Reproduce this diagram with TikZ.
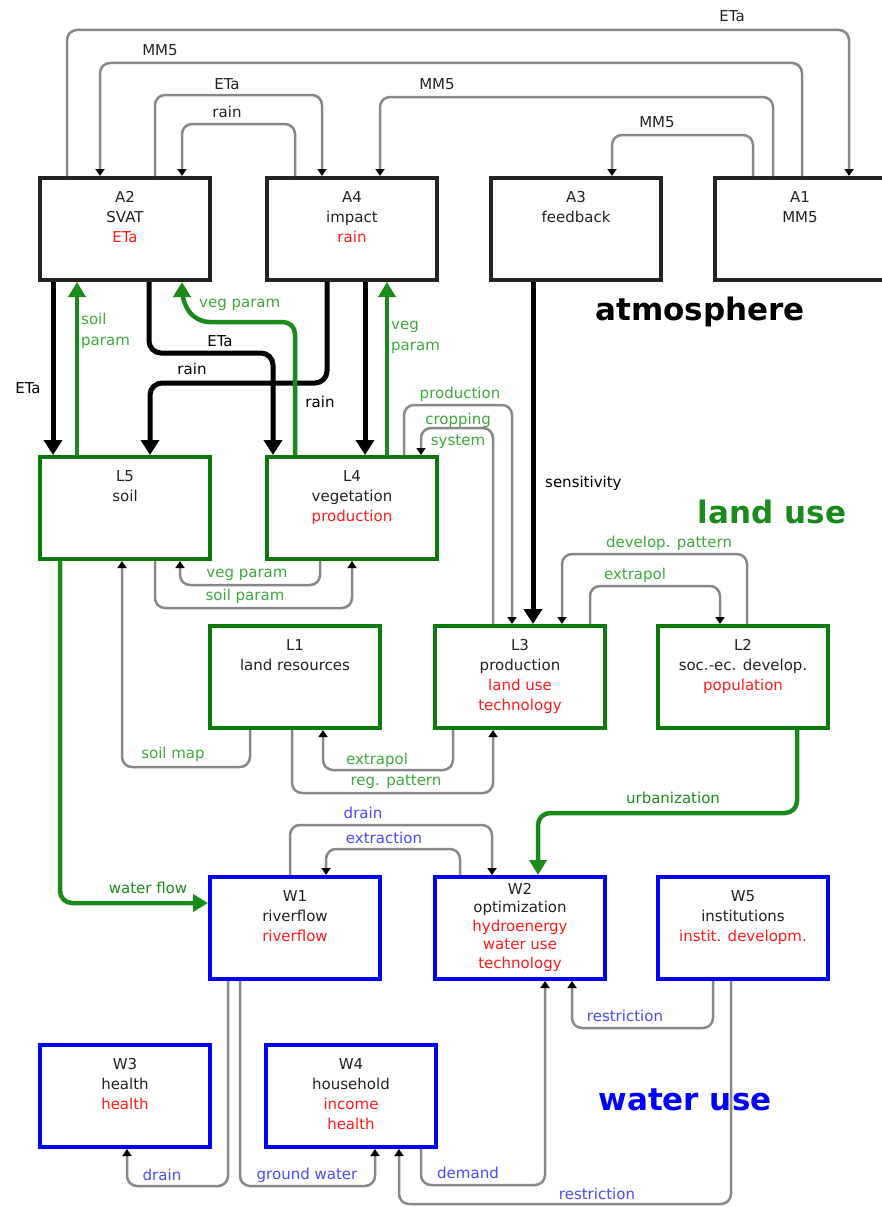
\documentclass[tikz,border=0pt]{standalone}
\usepackage{fontspec}
\setmainfont{DejaVu Sans}
\usetikzlibrary{arrows.meta}
\definecolor{cgray}{HTML}{888888}
\definecolor{cgreen}{HTML}{1A8A1A}
\definecolor{bgreen}{HTML}{0A7A0A}
\definecolor{lgreen}{HTML}{3DA83D}
\definecolor{cblue}{HTML}{0000FF}
\definecolor{lblue}{HTML}{4848FF}
\definecolor{cred}{HTML}{FF1A1A}
\definecolor{cdark}{HTML}{222222}
\begin{document}
\begin{tikzpicture}[x=1pt,y=-1pt,
 box/.style={draw, line width=4pt, minimum width=170pt, minimum height=102pt, inner sep=0pt},
 atm/.style={box, draw=cdark},
 lnd/.style={box, draw=bgreen},
 wtr/.style={box, draw=cblue},
 txt/.style={anchor=north, inner sep=0pt, align=center, font=\fontsize{15}{20}\selectfont, text=cdark},
 garr/.style={draw=cgray, line width=2.5pt, rounded corners=10pt, -{Triangle[width=9pt,length=7pt,color=black]}},
 barr/.style={draw=black, line width=5pt, rounded corners=12pt, -{Triangle[width=18pt,length=15pt]}},
 grarr/.style={draw=cgreen, line width=4.5pt, rounded corners=12pt, -{Triangle[width=17pt,length=15pt]}},
 lbl/.style={inner sep=1pt, font=\fontsize{15}{18}\selectfont},
 glbl/.style={lbl, text=lgreen},
 blbl/.style={lbl, text=lblue},
 klbl/.style={lbl, text=black},
 dlbl/.style={lbl, text=cdark},
 big/.style={anchor=base, inner sep=0pt, font=\fontsize{31}{36}\selectfont\bfseries}
]
\useasboundingbox (0,0) rectangle (882,1207);
% boxes
\node[atm] (a2) at (125,229) {};
\node[atm] (a4) at (352,229) {};
\node[atm] (a3) at (576,229) {};
\node[atm] (a1) at (800,229) {};
\node[lnd] (l5) at (125,508) {};
\node[lnd] (l4) at (352,508) {};
\node[lnd] (l1) at (295,677) {};
\node[lnd] (l3) at (520,677) {};
\node[lnd] (l2) at (743,677) {};
\node[wtr] (w1) at (295,928) {};
\node[wtr] (w2) at (520,928) {};
\node[wtr] (w5) at (743,928) {};
\node[wtr] (w3) at (125,1096) {};
\node[wtr] (w4) at (351,1096) {};
% box texts
\node[txt] (a2t) at ([yshift=-15pt]a2.north) {A2\\SVAT\\\textcolor{cred}{ETa}};
\node[txt] (a4t) at ([yshift=-15pt]a4.north) {A4\\impact\\\textcolor{cred}{rain}};
\node[txt] (a3t) at ([yshift=-15pt]a3.north) {A3\\feedback};
\node[txt] (a1t) at ([yshift=-15pt]a1.north) {A1\\MM5};
\node[txt] (l5t) at ([yshift=-15pt]l5.north) {L5\\soil};
\node[txt] (l4t) at ([yshift=-15pt]l4.north) {L4\\vegetation\\\textcolor{cred}{production}};
\node[txt] (l1t) at ([yshift=-15pt]l1.north) {L1\\land resources};
\node[txt] (l3t) at ([yshift=-15pt]l3.north) {L3\\production\\\textcolor{cred}{land use}\\\textcolor{cred}{technology}};
\node[txt] (l2t) at ([yshift=-15pt]l2.north) {L2\\soc.-ec. develop.\\\textcolor{cred}{population}};
\node[txt] (w1t) at ([yshift=-15pt]w1.north) {W1\\riverflow\\\textcolor{cred}{riverflow}};
\node[txt, font=\fontsize{15}{18.5}\selectfont] (w2t) at ([yshift=-8pt]w2.north) {W2\\optimization\\\textcolor{cred}{hydroenergy}\\\textcolor{cred}{water use}\\\textcolor{cred}{technology}};
\node[txt] (w5t) at ([yshift=-15pt]w5.north) {W5\\institutions\\\textcolor{cred}{instit. developm.}};
\node[txt] (w3t) at ([yshift=-15pt]w3.north) {W3\\health\\\textcolor{cred}{health}};
\node[txt] (w4t) at ([yshift=-15pt]w4.north) {W4\\household\\\textcolor{cred}{income}\\\textcolor{cred}{health}};
% big labels
\node[big, text=black] (atmo) at (700,320) {atmosphere};
\node[big, text=cgreen] (landuse) at (772,523) {land use};
\node[big, text=cblue] (wateruse) at (685,1110) {water use};
% atmosphere gray connectors
\draw[garr] ([xshift=-58pt]a2.north) |- (700,30) -| ([xshift=49pt]a1.north);
\node[dlbl] (e1) at (732,16) {ETa};
\draw[garr] ([xshift=2pt]a1.north) |- (400,63) -| ([xshift=-25pt]a2.north);
\node[dlbl] (e2) at (160,50) {MM5};
\draw[garr] ([xshift=30pt]a2.north) |- (230,95) -| ([xshift=-30pt]a4.north);
\node[dlbl] (e3) at (227,84) {ETa};
\draw[garr] ([xshift=-57pt]a4.north) |- (230,124) -| ([xshift=57pt]a2.north);
\node[dlbl] (e4) at (227,112) {rain};
\draw[garr] ([xshift=-27pt]a1.north) |- (500,97) -| ([xshift=28pt]a4.north);
\node[dlbl] (e5) at (437,84) {MM5};
\draw[garr] ([xshift=-47pt]a1.north) |- (680,135) -| ([xshift=36pt]a3.north);
\node[dlbl] (e6) at (657,122) {MM5};
% black thick
\draw[barr] ([xshift=-72pt]a2.south) -- ([xshift=-72pt]l5.north);
\node[klbl] (e7) at (28,388) {ETa};
\draw[barr] ([xshift=24pt]a2.south) |- (200,353) -| ([xshift=-79pt]l4.north);
\node[klbl] (e8) at (220,341) {ETa};
\draw[barr] ([xshift=-25pt]a4.south) |- (200,383) -| ([xshift=25pt]l5.north);
\node[klbl] (e9) at (192,369) {rain};
\draw[barr] ([xshift=13pt]a4.south) -- ([xshift=13pt]l4.north);
\node[klbl] (e10) at (320,402) {rain};
\draw[barr] ([xshift=-43pt]a3.south) -- ([xshift=13pt]l3.north);
\node[klbl, anchor=west] (e11) at (544,483) {sensitivity};
% green thick
\draw[grarr] ([xshift=-48pt]l5.north) -- ([xshift=-48pt]a2.south);
\node[glbl, anchor=north west, align=left, font=\fontsize{15}{21}\selectfont] (e12) at (80,312) {soil\\param};
\draw[grarr] ([xshift=-57pt]l4.north) -- (295,322) -- (197,322) -- (182,302) -- ([xshift=57pt]a2.south);
\node[glbl, anchor=west] (e13) at (198,305) {veg param};
\draw[grarr] ([xshift=35pt]l4.north) -- ([xshift=35pt]a4.south);
\node[glbl, anchor=north west, align=left, font=\fontsize{15}{21}\selectfont] (e14) at (390,320) {veg\\param};
\draw[grarr] ([xshift=-65pt]l5.south) |- ([yshift=25pt]w1.west);
\node[glbl, text=cgreen] (e15) at (148,888) {water flow};
\draw[grarr] ([xshift=54pt]l2.south) |- (600,813) -| ([xshift=18pt]w2.north);
\node[glbl, text=cgreen] (e16) at (673,798) {urbanization};
% land gray connectors
\draw[garr] ([xshift=-32pt]l4.south) |- (250,585) -| ([xshift=55pt]l5.south);
\node[glbl] (e17) at (247,575) {veg param};
\draw[garr] ([xshift=30pt]l5.south) |- (250,608) -| (l4.south);
\node[glbl] (e18) at (245,596) {soil param};
\draw[garr] ([xshift=-45pt]l1.south) |- (180,767) -| ([xshift=-3pt]l5.south);
\node[glbl] (e19) at (173,754) {soil map};
\draw[garr] ([xshift=-67pt]l3.south) |- (400,770) -| ([xshift=28pt]l1.south);
\node[glbl] (e20) at (377,760) {extrapol};
\draw[garr] ([xshift=-3pt]l1.south) |- (400,793) -| ([xshift=-27pt]l3.south);
\node[glbl] (e21) at (396,782) {reg. pattern};
\draw[garr] ([xshift=52pt]l4.north) |- (460,405) -| ([xshift=-8pt]l3.north);
\node[glbl] (e22) at (460,394) {production};
\draw[garr] ([xshift=-27pt]l3.north) |- (460,428) -| ([xshift=69pt]l4.north);
\node[glbl, align=center, font=\fontsize{15}{21}\selectfont] (e23) at (458,431) {cropping\\system};
\draw[garr] ([xshift=4pt]l2.north) |- (650,554) -| ([xshift=42pt]l3.north);
\node[glbl] (e24) at (669,543) {develop. pattern};
\draw[garr] ([xshift=70pt]l3.north) |- (650,586) -| ([xshift=-23pt]l2.north);
\node[glbl] (e25) at (635,575) {extrapol};
% water gray connectors
\draw[garr] ([xshift=-5pt]w1.north) |- (400,825) -| ([xshift=-28pt]w2.north);
\node[blbl] (e26) at (363,813) {drain};
\draw[garr] ([xshift=-60pt]w2.north) |- (400,849) -| ([xshift=31pt]w1.north);
\node[blbl] (e27) at (384,838) {extraction};
\draw[garr] ([xshift=-30pt]w5.south) |- (650,1028) -| ([xshift=52pt]w2.south);
\node[blbl] (e28) at (625,1016) {restriction};
\draw[garr] ([xshift=70pt]w4.south) |- (480,1185) -| ([xshift=25pt]w2.south);
\node[blbl] (e29) at (468,1173) {demand};
\draw[garr] ([xshift=-12pt]w5.south) |- (550,1204) -| ([xshift=48pt]w4.south);
\node[blbl] (e30) at (597,1194) {restriction};
\draw[garr] ([xshift=-67pt]w1.south) |- (180,1186) -| ([xshift=2pt]w3.south);
\node[blbl] (e31) at (162,1175) {drain};
\draw[garr] ([xshift=-55pt]w1.south) |- (300,1186) -| ([xshift=24pt]w4.south);
\node[blbl] (e32) at (307,1175) {ground water};
\end{tikzpicture}
\end{document}
